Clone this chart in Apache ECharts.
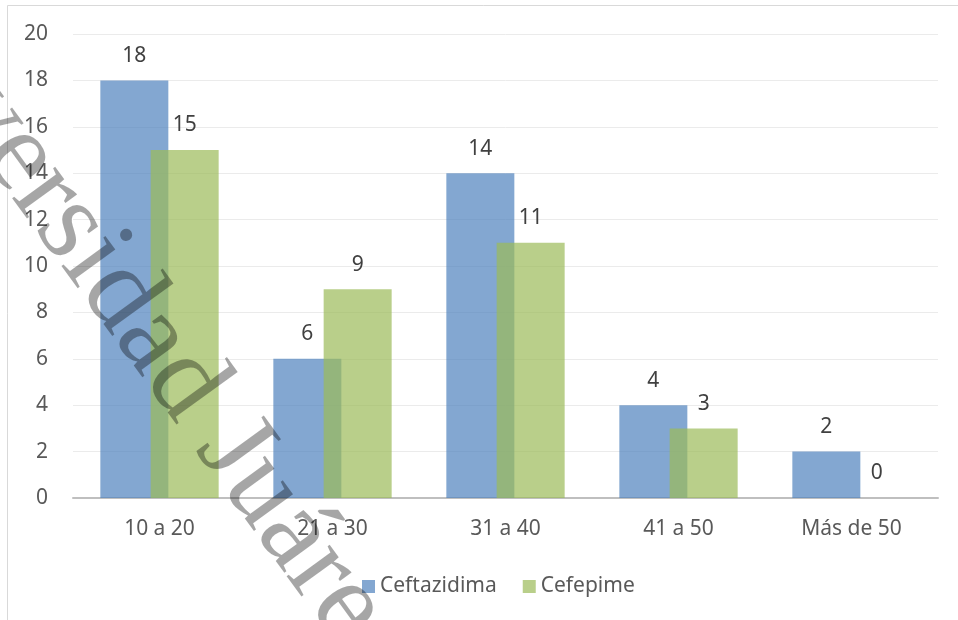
<!DOCTYPE html>
<html><head><meta charset="utf-8">
<script src="https://cdn.jsdelivr.net/npm/echarts@6/dist/echarts.min.js"></script>
<style>html,body{margin:0;padding:0;background:#fff}#c{width:958px;height:620px}</style>
</head><body><div id="c"></div>
<script>
const categories = ['10 a 20', '21 a 30', '31 a 40', '41 a 50', 'Más de 50'];
const ceftazidima = [18, 6, 14, 4, 2];
const cefepime = [15, 9, 11, 3, 0];
const seriesNames = ['Ceftazidima', 'Cefepime'];
const watermarkText = 'Universidad Juárez';

const FONT = 'Noto Sans';
const chart = echarts.init(document.getElementById('c'));
const labelStyle = {show: true, position: 'top', distance: 14, color: '#404040', fontSize: 21, fontFamily: FONT};
chart.setOption({
  animation: false,
  backgroundColor: '#fff',
  grid: {left: 73, right: 20, top: 34, bottom: 122, containLabel: false},
  legend: {
    data: seriesNames, left: 357, top: 571, itemWidth: 13, itemHeight: 13, itemGap: 26,
    icon: 'rect', textStyle: {color: '#595959', fontSize: 21, fontFamily: FONT}
  },
  xAxis: {
    type: 'category', data: categories,
    axisLine: {lineStyle: {color: '#BFBFBF', width: 2}},
    axisTick: {show: false},
    axisLabel: {color: '#595959', fontSize: 21, fontFamily: FONT, margin: 21}
  },
  yAxis: {
    type: 'value', min: 0, max: 20, interval: 2,
    axisLine: {show: false}, axisTick: {show: false},
    splitLine: {lineStyle: {color: '#EBEBEB', width: 1}},
    axisLabel: {color: '#595959', fontSize: 21, fontFamily: FONT, margin: 25}
  },
  series: [
    {name: seriesNames[0], type: 'bar', data: ceftazidima, barWidth: 68, barGap: '-26%',
     itemStyle: {color: 'rgba(79,129,189,0.7)'}, label: labelStyle},
    {name: seriesNames[1], type: 'bar', data: cefepime, barWidth: 68, barGap: '-26%',
     itemStyle: {color: 'rgba(155,187,89,0.7)'}, label: labelStyle}
  ],
  graphic: [
    {type: 'rect', shape: {x: 7.5, y: 5.5, width: 1200, height: 1200}, silent: true,
     style: {fill: 'none', stroke: '#D9D9D9', lineWidth: 1}, z: -10},
    {type: 'text', x: 131, y: 310, rotation: -54 * Math.PI / 180, silent: true, z: 100,
     style: {text: watermarkText, fontFamily: 'Liberation Serif', fontSize: 116,
             fill: 'rgba(0,0,0,0.35)', align: 'center', verticalAlign: 'middle'}}
  ]
});
</script></body></html>
